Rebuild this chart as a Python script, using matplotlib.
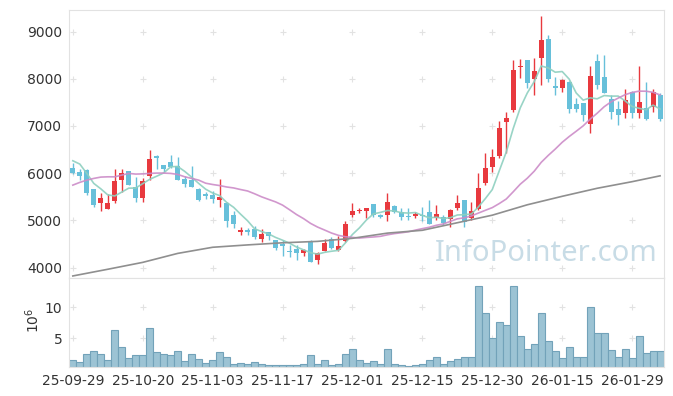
import numpy as np
import matplotlib
matplotlib.use('Agg')
import matplotlib.pyplot as plt

# daily candles, 25-09-29 .. (index based x axis)
opens = [6100, 6030, 6065, 5660, 5375, 5245, 5415, 5855, 6040, 5710,
         5480, 5945, 6370, 6170, 6230, 6155, 5875, 5850, 5665, 5555,
         5540, 5430, 5370, 5110, 4750, 4790, 4810, 4610, 4745, 4580,
         4495, 4355, 4390, 4310, 4545, 4155, 4350, 4600, 4370, 4560,
         5115, 5200, 5205, 5345, 5110, 5120, 5300, 5180, 5095, 5090,
         5110, 5180, 5060, 5075, 5020, 5260, 5430, 5055, 5235, 5785,
         6135, 6365, 7090, 7340, 8255, 8400, 8000, 8435, 8845, 7850,
         7815, 7940, 7465, 7480, 7040, 8380, 8030, 7565, 7360, 7280,
         7730, 7270, 7390, 7395, 7655]
highs = [6210, 6080, 6080, 5670, 5590, 5550, 6085, 6085, 6050, 5920,
         5890, 6490, 6380, 6180, 6385, 6345, 5940, 6150, 5680, 5610,
         5620, 5875, 5380, 5200, 4860, 4840, 4880, 4820, 4750, 4590,
         4580, 4470, 4470, 4400, 4580, 4330, 4595, 4640, 4660, 4990,
         5360, 5265, 5260, 5345, 5140, 5585, 5330, 5255, 5255, 5180,
         5285, 5430, 5320, 5110, 5240, 5530, 5440, 5380, 5995, 6420,
         6505, 7105, 7300, 8400, 8415, 8400, 8450, 9335, 8930, 8045,
         8000, 7950, 7590, 7490, 8270, 8530, 8505, 7650, 7530, 7780,
         7740, 8265, 7940, 7780, 7700]
lows = [5980, 5850, 5530, 5290, 5200, 5245, 5360, 5600, 5740, 5395,
        5395, 5850, 6080, 6030, 6110, 5850, 5710, 5700, 5410, 5460,
        5370, 5275, 4850, 4840, 4690, 4700, 4615, 4545, 4580, 4380,
        4240, 4225, 4170, 4240, 4110, 4070, 4345, 4400, 4360, 4540,
        5080, 5160, 5050, 5070, 5040, 4990, 5165, 5005, 5005, 5040,
        4990, 4915, 5000, 4900, 4850, 5210, 4850, 5010, 5210, 5760,
        6030, 6330, 6420, 7300, 8010, 7800, 7655, 7870, 7940, 7660,
        7730, 7270, 7300, 7105, 6845, 7780, 7700, 7145, 7020, 7160,
        7160, 7160, 7120, 7290, 7115]
closes = [6010, 5945, 5590, 5330, 5470, 5365, 5830, 6000, 5750, 5480,
          5830, 6290, 6330, 6095, 6135, 5860, 5775, 5710, 5440, 5520,
          5455, 5500, 4990, 4920, 4790, 4755, 4650, 4705, 4665, 4420,
          4460, 4330, 4300, 4370, 4120, 4300, 4520, 4420, 4460, 4920,
          5190, 5220, 5255, 5105, 5075, 5390, 5170, 5070, 5070, 5130,
          5085, 4920, 5130, 4935, 5215, 5370, 4955, 5195, 5680, 6100,
          6335, 6950, 7175, 8190, 8270, 7905, 8165, 8825, 7990, 7815,
          7975, 7360, 7360, 7230, 8060, 7870, 7705, 7300, 7235, 7550,
          7280, 7510, 7140, 7730, 7140]
# volume in millions
volumes = [1.5, 1.2, 2.5, 3.0, 2.5, 1.5, 6.25, 3.5, 1.85, 2.2,
           2.35, 6.6, 2.8, 2.5, 2.35, 3.0, 1.35, 2.5, 1.7, 1.05,
           1.5, 2.8, 2.0, 0.87, 1.05, 0.87, 1.2, 0.87, 0.7, 0.7,
           0.7, 0.7, 0.7, 0.87, 2.2, 0.87, 1.5, 0.7, 0.87, 2.5,
           3.2, 1.5, 1.05, 1.35, 0.87, 3.2, 0.87, 0.7, 0.55, 0.7,
           0.87, 1.5, 2.0, 0.87, 1.35, 1.7, 2.0, 2.0, 13.4, 9.0,
           5.1, 7.55, 7.05, 13.4, 5.3, 3.3, 4.1, 9.0, 4.6, 3.0,
           1.85, 3.5, 2.0, 2.0, 10.0, 5.75, 5.75, 3.15, 2.0, 3.3,
           1.85, 5.4, 2.65, 3.0, 3.0]

# moving averages: first points (window starts before data)
ma5_head = [6263, 6193, 5995, 5783]
ma20_head = [5747, 5805, 5853, 5889, 5917, 5923, 5923, 5959, 5995, 5981,
             5985, 5995, 6002, 6002, 5995, 5974, 5924, 5889, 5853]
ma60_idx = [0, 5, 10, 15, 20, 25, 30, 35, 40, 45, 50, 55, 60, 65, 70, 75, 80, 84]
ma60_val = [3822, 3964, 4110, 4300, 4430, 4480, 4525, 4555, 4620, 4730,
            4790, 4950, 5110, 5330, 5510, 5680, 5820, 5944]

tick_pos = [0, 10, 20, 30, 40, 50, 60, 70, 80]
tick_labels = ['25-09-29', '25-10-20', '25-11-03', '25-11-17', '25-12-01',
               '25-12-15', '25-12-30', '26-01-15', '26-01-29']

c = np.array(closes, dtype=float)
o = np.array(opens, dtype=float)
x = np.arange(len(c))
ma5 = np.array(ma5_head + [c[i - 4:i + 1].mean() for i in range(4, len(c))])
ma20 = np.array(ma20_head + [c[i - 19:i + 1].mean() for i in range(19, len(c))])

RED = '#e8393e'
BLUE = '#67c0da'
GRID = '#e2e2e2'
SPINE = '#e2e2e2'

fig = plt.figure(figsize=(6.73, 3.96), dpi=100)
ax = fig.add_axes([0.103, 0.298, 0.883, 0.677])
axv = fig.add_axes([0.103, 0.073, 0.883, 0.225], sharex=ax)

up = c >= o
colors = np.where(up, RED, BLUE)
body = np.maximum(np.abs(c - o), 25)
bottom = np.minimum(o, c)
ax.vlines(x, lows, highs, colors=colors, linewidth=1.0, zorder=2)
ax.bar(x, body, bottom=bottom, width=0.72, color=colors, zorder=3)

ax.plot(x, ma5, color='#8ed0c0', lw=1.2, alpha=0.9, zorder=4)
ax.plot(x, ma20, color='#cc8cc8', lw=1.2, alpha=0.9, zorder=4)
ax.plot(ma60_idx, ma60_val, color='#8f8f8f', lw=1.2, zorder=4)

ax.text(0.803, 0.09, 'InfoPointer.com', transform=ax.transAxes, ha='center',
        va='center', fontsize=21, family='Noto Sans', color='#c8dce6', zorder=1)

yt = [4000, 5000, 6000, 7000, 8000, 9000]
ax.set_ylim(3779, 9460)
ax.set_xlim(-0.5, 84.5)
ax.set_yticks(yt)
gx, gy = np.meshgrid(tick_pos, yt)
ax.plot(gx.ravel(), gy.ravel(), ls='none', marker='+', ms=4, mew=0.8, color=GRID, zorder=0)

axv.bar(x, volumes, width=1.0, color='#9cc3d4', edgecolor='#72a2b9', linewidth=0.8)
axv.set_ylim(0.33, 14.7)
axv.set_yticks([5, 10])
gx, gy = np.meshgrid(tick_pos, [5, 10])
axv.plot(gx.ravel(), gy.ravel(), ls='none', marker='+', ms=4, mew=0.8, color=GRID, zorder=0)
axv.set_xticks(tick_pos)
axv.set_xticklabels(tick_labels)
fig.text(0.049, 0.19, r'$10^6$', rotation=90, ha='center', va='center', fontsize=10, color='#333333')

for a in (ax, axv):
    for s in a.spines.values():
        s.set_color(SPINE)
    a.tick_params(length=0, labelsize=10, colors='#333333', pad=5)
ax.tick_params(labelbottom=False)

fig.savefig('out.png', dpi=100)
